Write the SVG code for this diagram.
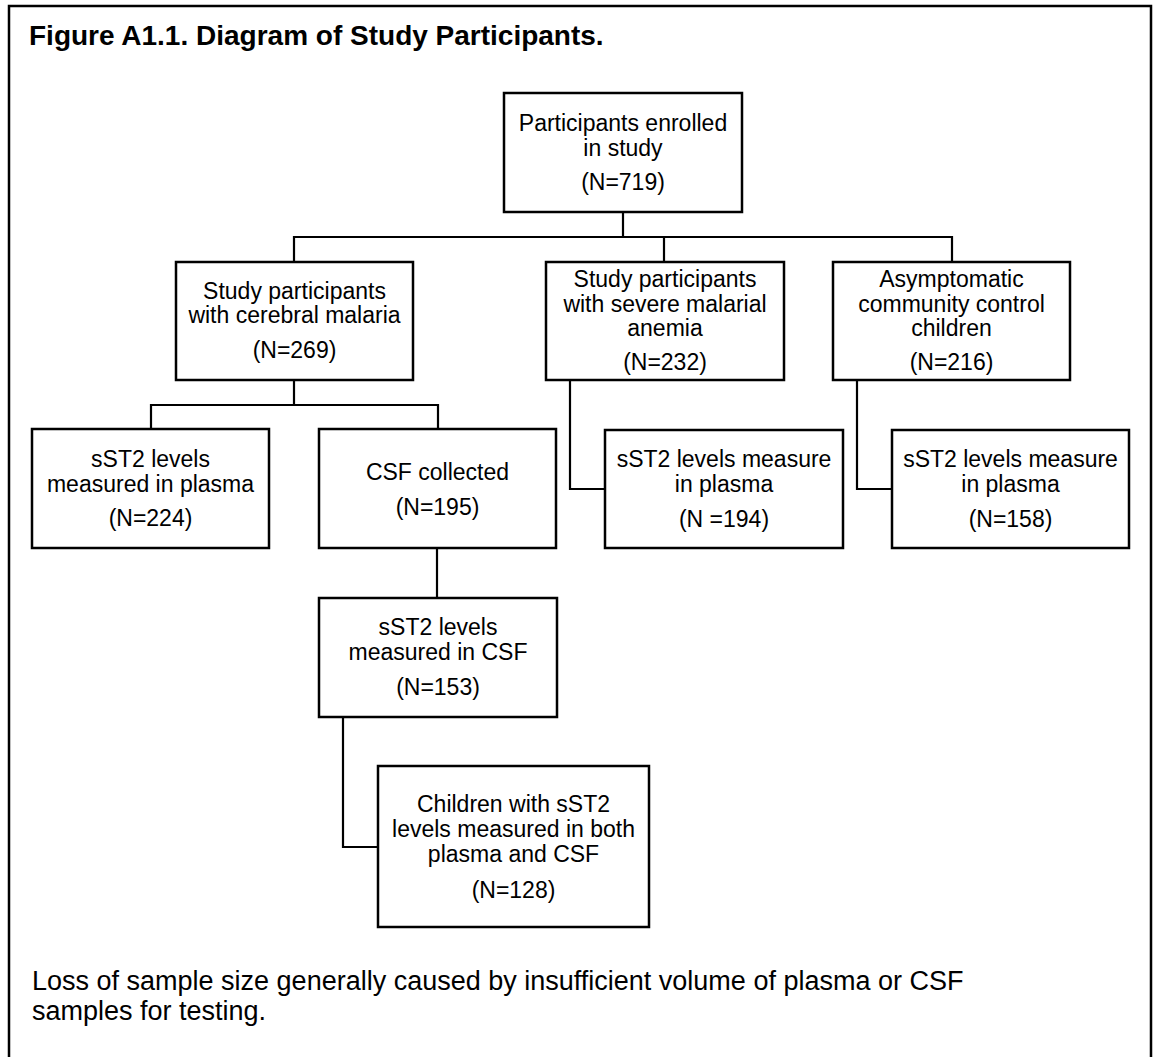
<svg xmlns="http://www.w3.org/2000/svg" width="1154" height="1057" viewBox="0 0 1154 1057">
<style>
.box{fill:#fff;stroke:#000;stroke-width:2.5}
.t{font-family:"Liberation Sans",Arial,sans-serif;font-size:23px;fill:#000;text-anchor:middle}
.title{font-family:"Liberation Sans",Arial,sans-serif;font-size:28px;font-weight:bold;fill:#000}
.note{font-family:"Liberation Sans",Arial,sans-serif;font-size:27px;fill:#000}
.c{fill:none;stroke:#000;stroke-width:2.2}
</style>
<rect width="1154" height="1057" fill="#fff"/>
<path d="M9 1060 V6 H1151 V1060" fill="none" stroke="#000" stroke-width="2.5"/>
<text class="title" x="29" y="45">Figure A1.1. Diagram of Study Participants.</text>
<g id="connectors">
<path class="c" d="M623 212 V237 M294 262 V237 H952 V262 M664 237 V262"/>
<path class="c" d="M294 380 V405 M151 429 V405 H438 V429"/>
<path class="c" d="M437 548 V598"/>
<path class="c" d="M343 717 V847 H378"/>
<path class="c" d="M570 380 V489 H605"/>
<path class="c" d="M857 380 V489 H892"/>
</g>
<g id="enrolled">
<rect class="box" x="504" y="93" width="238" height="119"/>
<text class="t" x="623" y="131">Participants enrolled</text>
<text class="t" x="623" y="156">in study</text>
<text class="t" x="623" y="190">(N=719)</text>
</g>
<g id="cerebral">
<rect class="box" x="176" y="262" width="237" height="118"/>
<text class="t" x="294.5" y="299">Study participants</text>
<text class="t" x="294.5" y="323">with cerebral malaria</text>
<text class="t" x="294.5" y="358">(N=269)</text>
</g>
<g id="severe">
<rect class="box" x="546" y="262" width="238" height="118"/>
<text class="t" x="665" y="287">Study participants</text>
<text class="t" x="665" y="312">with severe malarial</text>
<text class="t" x="665" y="336">anemia</text>
<text class="t" x="665" y="370">(N=232)</text>
</g>
<g id="asymptomatic">
<rect class="box" x="833" y="262" width="237" height="118"/>
<text class="t" x="951.5" y="287">Asymptomatic</text>
<text class="t" x="951.5" y="312">community control</text>
<text class="t" x="951.5" y="336">children</text>
<text class="t" x="951.5" y="370">(N=216)</text>
</g>
<g id="cm-plasma">
<rect class="box" x="32" y="429" width="237" height="119"/>
<text class="t" x="150.5" y="467">sST2 levels</text>
<text class="t" x="150.5" y="492">measured in plasma</text>
<text class="t" x="150.5" y="526">(N=224)</text>
</g>
<g id="csf-collected">
<rect class="box" x="319" y="429" width="237" height="119"/>
<text class="t" x="437.5" y="480">CSF collected</text>
<text class="t" x="437.5" y="515">(N=195)</text>
</g>
<g id="sma-plasma">
<rect class="box" x="605" y="430" width="238" height="118"/>
<text class="t" x="724" y="467">sST2 levels measure</text>
<text class="t" x="724" y="492">in plasma</text>
<text class="t" x="724" y="527">(N =194)</text>
</g>
<g id="control-plasma">
<rect class="box" x="892" y="430" width="237" height="118"/>
<text class="t" x="1010.5" y="467">sST2 levels measure</text>
<text class="t" x="1010.5" y="492">in plasma</text>
<text class="t" x="1010.5" y="527">(N=158)</text>
</g>
<g id="csf-sst2">
<rect class="box" x="319" y="598" width="238" height="119"/>
<text class="t" x="438" y="635">sST2 levels</text>
<text class="t" x="438" y="660">measured in CSF</text>
<text class="t" x="438" y="695">(N=153)</text>
</g>
<g id="both">
<rect class="box" x="378" y="766" width="271" height="161"/>
<text class="t" x="513.5" y="812">Children with sST2</text>
<text class="t" x="513.5" y="837">levels measured in both</text>
<text class="t" x="513.5" y="862">plasma and CSF</text>
<text class="t" x="513.5" y="898">(N=128)</text>
</g>
<text class="note" x="32" y="990">Loss of sample size generally caused by insufficient volume of plasma or CSF</text>
<text class="note" x="32" y="1020">samples for testing.</text>
</svg>
